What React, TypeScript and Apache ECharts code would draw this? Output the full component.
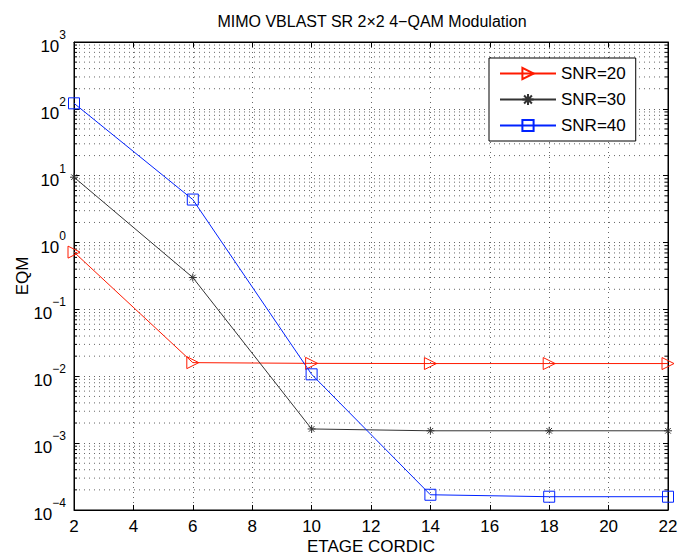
import React, { useEffect, useRef } from "react";
import * as echarts from "echarts";

const xValues = [2, 6, 10, 14, 18, 22];
const snr20 = [0.72, 0.016, 0.0156, 0.0155, 0.0155, 0.0155];
const snr30 = [9.5, 0.3, 0.00163, 0.00153, 0.00153, 0.00153];
const snr40 = [121, 4.4, 0.0107, 0.000169, 0.000158, 0.000158];
const seriesNames = ["SNR=20", "SNR=30", "SNR=40"];
const decades = [-4, -3, -2, -1, 0, 1, 2];
const minorMult = [2, 3, 4, 5, 6, 7, 8, 9];

const FONT = "'Liberation Sans', Arial, Helvetica, sans-serif";

const minorVals: number[] = [];
decades.forEach((d) => minorMult.forEach((m) => minorVals.push(m * Math.pow(10, d))));

const RED = "#ff1a00";
const BLK = "#333333";
const BLU = "#0022ff";

export default function App() {
  const ref = useRef<HTMLDivElement>(null);
  useEffect(() => {
    if (!ref.current) return;
    const chart = echarts.init(ref.current, null, { renderer: "svg" });
    const dotted = { color: "#000", width: 1, type: [1, 4] as any, opacity: 0.6 };
    const expFmt = (v: number) => {
      const e = Math.round(Math.log10(v));
      return "{b|10}{e|" + (e < 0 ? "\u2212" + -e : String(e)) + "}";
    };
    const mk = (data: number[]) => xValues.map((x, i) => [x, data[i]]);
    chart.setOption({
      animation: false,
      backgroundColor: "#fff",
      textStyle: { fontFamily: FONT },
      graphic: [
        {
          type: "text",
          x: 372,
          y: 21,
          style: {
            text: "MIMO VBLAST SR 2\u00d72 4\u2212QAM Modulation",
            font: "16px " + FONT,
            fill: "#000",
            textAlign: "center",
            textVerticalAlign: "middle",
          },
        },
        {
          type: "text",
          x: 22,
          y: 276,
          rotation: Math.PI / 2,
          style: {
            text: "EQM",
            font: "17px " + FONT,
            fill: "#000",
            textAlign: "center",
            textVerticalAlign: "middle",
          },
        },
        {
          type: "text",
          x: 371,
          y: 546,
          style: {
            text: "ETAGE CORDIC",
            font: "17px " + FONT,
            fill: "#000",
            textAlign: "center",
            textVerticalAlign: "middle",
          },
        },
      ],
      grid: {
        left: 74,
        right: 12,
        top: 42,
        bottom: 47,
        outerBoundsMode: "none",
        containLabel: false,
        show: true,
        borderColor: "#000",
        borderWidth: 1,
        backgroundColor: "transparent",
      },
      legend: {
        data: seriesNames,
        orient: "vertical",
        left: 489,
        top: 58,
        padding: [7, 10, 7, 10],
        itemGap: 9,
        itemWidth: 56,
        itemHeight: 14,
        borderColor: "#000",
        borderWidth: 1,
        backgroundColor: "#fff",
        textStyle: { fontSize: 17, color: "#000", fontFamily: FONT },
      },
      xAxis: [
        {
          type: "value",
          min: 2,
          max: 22,
          interval: 2,
          axisLine: { show: true, lineStyle: { color: "#000", width: 1 } },
          axisTick: { show: true, inside: true, length: 5, lineStyle: { color: "#000" } },
          axisLabel: { fontSize: 17, color: "#000", margin: 8, fontFamily: FONT },
          splitLine: { show: true, lineStyle: dotted },
        },
        {
          type: "value",
          min: 2,
          max: 22,
          interval: 2,
          position: "top",
          axisLine: { show: true, lineStyle: { color: "#000", width: 1 } },
          axisTick: { show: true, inside: true, length: 5, lineStyle: { color: "#000" } },
          axisLabel: { show: false },
          splitLine: { show: false },
        },
      ],
      yAxis: [
        {
          type: "log",
          logBase: 10,
          min: 1e-4,
          max: 1e3,
          interval: 1,
          axisLine: { show: true, lineStyle: { color: "#000", width: 1 } },
          axisTick: { show: true, inside: true, length: 5, lineStyle: { color: "#000" } },
          axisLabel: {
            margin: 8,
            formatter: expFmt,
            rich: {
              b: { fontSize: 17, color: "#000", fontFamily: FONT, lineHeight: 26, verticalAlign: "bottom" },
              e: { fontSize: 12, color: "#000", fontFamily: FONT, lineHeight: 13, verticalAlign: "top" },
            },
          },
          splitLine: { show: true, lineStyle: dotted },
        },
        {
          type: "log",
          logBase: 10,
          min: 1e-4,
          max: 1e3,
          interval: 1,
          position: "right",
          axisLine: { show: true, lineStyle: { color: "#000", width: 1 } },
          axisTick: { show: true, inside: true, length: 5, lineStyle: { color: "#000" } },
          axisLabel: { show: false },
          splitLine: { show: false },
        },
      ],
      series: [
        {
          type: "custom",
          name: "minor",
          xAxisIndex: 0,
          yAxisIndex: 0,
          silent: true,
          z: 1,
          data: minorVals.map((v) => [2, v]),
          renderItem: (_p: any, api: any) => {
            const v = api.value(1);
            const p0 = api.coord([2, v]);
            const p1 = api.coord([22, v]);
            return {
              type: "group",
              children: [
                {
                  type: "line",
                  shape: { x1: p0[0], y1: p0[1], x2: p1[0], y2: p1[1] },
                  style: { stroke: "#000", lineWidth: 1, lineDash: [1, 4], opacity: 0.6 },
                },
                {
                  type: "line",
                  shape: { x1: p0[0], y1: p0[1], x2: p0[0] + 3, y2: p0[1] },
                  style: { stroke: "#000", lineWidth: 1 },
                },
                {
                  type: "line",
                  shape: { x1: p1[0] - 3, y1: p1[1], x2: p1[0], y2: p1[1] },
                  style: { stroke: "#000", lineWidth: 1 },
                },
              ],
            };
          },
        },
        {
          name: seriesNames[0],
          type: "line",
          z: 3,
          data: mk(snr20),
          symbol: "triangle",
          symbolRotate: -90,
          symbolSize: 12,
          lineStyle: { color: RED, width: 1 },
          itemStyle: { color: "rgba(0,0,0,0)", borderColor: RED, borderWidth: 1 },
          emphasis: { disabled: true },
        },
        {
          name: seriesNames[1],
          type: "line",
          z: 3,
          data: mk(snr30),
          symbol: "path://M5,0L5,10M0,5L10,5M1.5,1.5L8.5,8.5M1.5,8.5L8.5,1.5",
          symbolSize: 8,
          lineStyle: { color: BLK, width: 1 },
          itemStyle: { color: "rgba(0,0,0,0)", borderColor: BLK, borderWidth: 1 },
          emphasis: { disabled: true },
        },
        {
          name: seriesNames[2],
          type: "line",
          z: 3,
          data: mk(snr40),
          symbol: "rect",
          symbolSize: 11,
          lineStyle: { color: BLU, width: 1 },
          itemStyle: { color: "rgba(0,0,0,0)", borderColor: BLU, borderWidth: 1 },
          emphasis: { disabled: true },
        },
      ],
    });
    return () => chart.dispose();
  }, []);
  return (
    <div
      ref={ref}
      style={{ position: "fixed", left: 0, top: 0, width: 680, height: 557, background: "#fff" }}
    />
  );
}
